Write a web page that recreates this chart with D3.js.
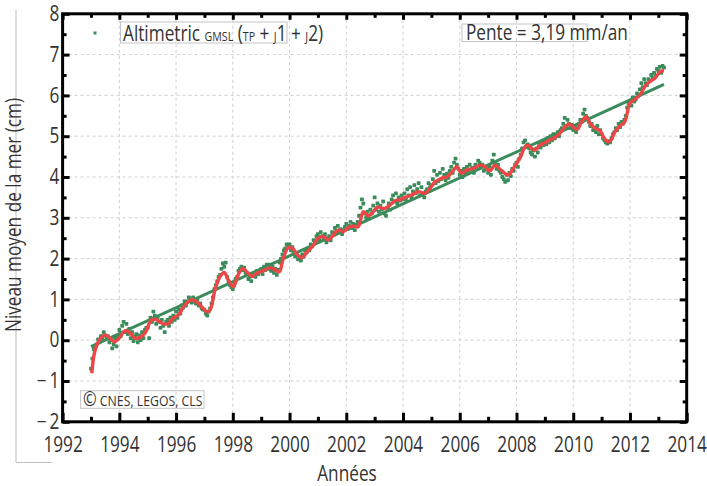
<!DOCTYPE html>
<html>
<head>
<meta charset="utf-8">
<script src="https://cdn.jsdelivr.net/npm/d3@7"></script>
<style>
 body { margin: 0; background: #fff; }
 text { font-family: "Open Sans", sans-serif; fill: #333; }
</style>
</head>
<body>
<script>
const width = 707;
const height = 486;
const sx = 0.82; // the original font is narrow, squeeze Open Sans a bit

// smoothed curve (red)
const smoothYears = [1993.03, 1993.12, 1993.26, 1993.49, 1993.67, 1993.82, 1993.96, 1994.20, 1994.38, 1994.55, 1994.73, 1994.90,
 1995.14, 1995.32, 1995.55, 1995.73, 1995.90, 1996.08, 1996.31, 1996.53, 1996.73, 1996.90, 1997.08, 1997.20, 1997.37, 1997.55,
 1997.70, 1997.84, 1998.02, 1998.19, 1998.35, 1998.49, 1998.67, 1998.84, 1999.07, 1999.31, 1999.49, 1999.64, 1999.78, 1999.96,
 2000.11, 2000.25, 2000.43, 2000.60, 2000.84, 2001.01, 2001.19, 2001.37, 2001.54, 2001.72, 2001.89, 2002.07, 2002.25, 2002.42,
 2002.60, 2002.78, 2002.95, 2003.10, 2003.36, 2003.54, 2003.72, 2003.89, 2004.07, 2004.31, 2004.54, 2004.77, 2004.95, 2005.13,
 2005.36, 2005.57, 2005.74, 2005.89, 2006.07, 2006.24, 2006.48, 2006.71, 2006.89, 2007.06, 2007.24, 2007.42, 2007.59, 2007.71,
 2007.85, 2008.01, 2008.15, 2008.28, 2008.38, 2008.54, 2008.65, 2008.83, 2009.00, 2009.18, 2009.36, 2009.53, 2009.71, 2009.86,
 2010.00, 2010.14, 2010.30, 2010.45, 2010.59, 2010.77, 2010.94, 2011.06, 2011.20, 2011.32, 2011.47, 2011.65, 2011.82, 2012.00,
 2012.17, 2012.35, 2012.52, 2012.70, 2012.88, 2013.06, 2013.20];
const smoothValues = [-0.81, -0.32, -0.04, 0.13, 0.05, -0.04, 0.02, 0.23, 0.18, 0.05, 0.07, 0.17,
 0.50, 0.50, 0.40, 0.41, 0.54, 0.62, 0.86, 0.99, 0.94, 0.82, 0.70, 0.74, 1.23, 1.56,
 1.66, 1.48, 1.31, 1.60, 1.76, 1.68, 1.56, 1.64, 1.70, 1.78, 1.72, 1.68, 2.01, 2.27,
 2.25, 2.11, 2.02, 2.15, 2.33, 2.50, 2.54, 2.46, 2.58, 2.70, 2.66, 2.76, 2.80, 2.78,
 3.15, 3.05, 3.15, 3.26, 3.23, 3.31, 3.42, 3.44, 3.50, 3.56, 3.64, 3.60, 3.72, 3.88,
 3.97, 4.01, 4.13, 4.25, 4.09, 4.17, 4.21, 4.29, 4.25, 4.15, 4.29, 4.19, 4.09, 4.05,
 4.17, 4.34, 4.50, 4.72, 4.78, 4.70, 4.66, 4.78, 4.84, 4.91, 4.97, 5.07, 5.23, 5.30,
 5.22, 5.17, 5.36, 5.48, 5.32, 5.19, 5.14, 4.99, 4.87, 4.89, 5.11, 5.25, 5.36, 5.81,
 5.90, 6.01, 6.21, 6.34, 6.42, 6.58, 6.61];

// altimetry points (green), one row per year, every 0.05 year from 1993.0
const pointStart = 1993.0;
const pointStep = 0.05;
const pointValues = [
 -0.70,-0.45,-0.22,-0.15,-0.10,0.02,-0.05,0.10,0.05,0.20,0.12,0.08,0.10,-0.05,0.00,-0.20,-0.10,0.05,-0.15,0.10,
 0.25,0.10,0.35,0.45,0.20,0.40,0.15,0.28,0.05,0.20,-0.02,0.10,0.15,-0.05,0.12,0.00,0.20,0.05,0.25,0.30,
 0.30,0.05,0.55,0.45,0.70,0.60,0.40,0.55,0.45,0.30,0.50,0.35,0.20,0.45,0.50,0.35,0.55,0.45,0.60,0.50,
 0.70,0.55,0.75,0.65,0.85,0.80,0.95,0.85,0.95,1.05,1.00,0.92,1.05,0.95,0.90,1.00,0.85,0.90,0.78,0.75,
 0.75,0.65,0.60,0.70,0.78,0.90,1.05,1.25,1.35,1.45,1.55,1.60,1.75,1.88,1.80,1.90,1.55,1.45,1.35,1.30,
 1.25,1.35,1.50,1.55,1.70,1.75,1.80,1.72,1.78,1.65,1.62,1.50,1.55,1.45,1.58,1.65,1.55,1.70,1.62,1.68,
 1.75,1.62,1.80,1.72,1.85,1.75,1.85,1.70,1.80,1.65,1.75,1.60,1.72,1.90,2.00,2.10,2.20,2.25,2.35,2.30,
 2.35,2.20,2.28,2.15,2.05,2.10,1.98,2.05,1.95,2.10,2.05,2.20,2.15,2.25,2.20,2.35,2.30,2.45,2.40,2.55,
 2.60,2.45,2.65,2.55,2.48,2.60,2.40,2.50,2.55,2.45,2.65,2.60,2.75,2.68,2.80,2.65,2.72,2.60,2.70,2.78,
 2.85,2.72,2.80,2.90,2.75,2.85,2.70,2.82,2.90,3.05,3.25,3.45,3.35,3.10,3.00,3.15,2.98,3.20,3.10,3.30,
 3.50,3.20,3.35,3.15,3.30,3.20,3.40,3.10,3.05,3.25,3.35,3.20,3.45,3.55,3.40,3.60,3.35,3.50,3.42,3.55,
 3.45,3.60,3.45,3.70,3.55,3.75,3.50,3.65,3.80,3.60,3.70,3.85,3.55,3.75,3.60,3.50,3.65,3.70,3.85,3.75,
 3.80,3.95,4.15,3.85,4.05,3.90,4.10,3.95,4.20,4.05,3.92,4.08,3.98,4.15,4.25,4.10,4.35,4.45,4.30,4.20,
 4.05,4.15,4.00,4.20,4.10,4.25,4.15,4.30,4.18,4.22,4.10,4.30,4.25,4.40,4.35,4.25,4.30,4.15,4.25,4.20,
 4.10,4.25,4.05,4.40,4.55,4.35,4.20,4.30,4.15,4.10,4.00,3.95,3.88,4.05,3.92,4.10,4.02,4.20,4.15,4.30,
 4.35,4.25,4.45,4.55,4.70,4.85,4.90,4.75,4.80,4.70,4.60,4.55,4.65,4.50,4.70,4.60,4.80,4.72,4.85,4.78,
 4.90,4.80,4.95,4.85,5.00,4.90,5.05,4.95,5.00,5.10,5.00,5.15,5.20,5.30,5.45,5.25,5.40,5.30,5.20,5.28,
 5.15,5.25,5.10,5.20,5.30,5.40,5.35,5.55,5.65,5.50,5.45,5.35,5.25,5.30,5.15,5.20,5.10,5.25,5.05,5.15,
 5.05,4.95,4.90,4.85,4.82,4.88,4.85,4.95,5.05,5.10,5.20,5.15,5.30,5.22,5.35,5.30,5.40,5.50,5.70,5.80,
 5.85,5.75,5.95,5.85,5.90,6.05,6.00,6.15,6.30,6.20,6.40,6.30,6.25,6.40,6.35,6.50,6.42,6.55,6.48,6.65,
 6.60,6.70,6.55,6.72,6.68];

// linear trend, 3,19 mm/an
const trendYears = [1993.0, 2013.2];
const trendValues = [-0.16, 6.27];

const xMajor = [1992, 1994, 1996, 1998, 2000, 2002, 2004, 2006, 2008, 2010, 2012, 2014];
const xMinor = [1993, 1995, 1997, 1999, 2001, 2003, 2005, 2007, 2009, 2011, 2013];
const yMajor = [-2, -1, 0, 1, 2, 3, 4, 5, 6, 7, 8];
const yMinor = [-1.5, -0.5, 0.5, 1.5, 2.5, 3.5, 4.5, 5.5, 6.5, 7.5];

const pLeft = 62.6, pRight = 686.7, pTop = 13.8, pBottom = 421.8;
const green = "#3b8b5b";
const red = "#ec4646";

var svg = d3.select("body")
 .append("svg")
 .attr("width", width)
 .attr("height", height);

var x = d3.scaleLinear().domain([1992, 2014]).range([pLeft, pRight]);
var y = d3.scaleLinear().domain([-2, 8]).range([pBottom, pTop]);

// grid
svg.append("g").selectAll("line")
 .data(xMajor.slice(1, -1))
 .enter().append("line")
 .attr("x1", d => x(d)).attr("x2", d => x(d))
 .attr("y1", pTop).attr("y2", pBottom)
 .attr("stroke", "#cfcfcf").attr("stroke-dasharray", "3,3");
svg.append("g").selectAll("line")
 .data(yMajor.slice(1, -1))
 .enter().append("line")
 .attr("x1", pLeft).attr("x2", pRight)
 .attr("y1", d => y(d)).attr("y2", d => y(d))
 .attr("stroke", "#cfcfcf").attr("stroke-dasharray", "3,3");

// points
svg.append("g").selectAll("rect")
 .data(pointValues)
 .enter().append("rect")
 .attr("x", (d, i) => x(pointStart + i * pointStep) - 1.9)
 .attr("y", d => y(d) - 1.9)
 .attr("width", 3.8).attr("height", 3.8)
 .attr("rx", 0.8)
 .attr("fill", green);

// trend
svg.append("path")
 .datum(trendYears.map((d, i) => [d, trendValues[i]]))
 .attr("d", d3.line().x(d => x(d[0])).y(d => y(d[1])))
 .attr("fill", "none").attr("stroke", green).attr("stroke-width", 3);

// smoothed curve
svg.append("path")
 .datum(smoothYears.map((d, i) => [d, smoothValues[i]]))
 .attr("d", d3.line().curve(d3.curveCatmullRom).x(d => x(d[0])).y(d => y(d[1])))
 .attr("fill", "none").attr("stroke", red).attr("stroke-width", 3.4).attr("stroke-linejoin", "round");

// axes, ticks pointing inside
function minusFmt(d) {
 return d < 0 ? "\u2212\u2009" + Math.abs(d) : "" + d;
}
function styleAxis(g, w) {
 g.select(".domain").remove();
 g.selectAll("line").attr("stroke", "#000").attr("stroke-width", w);
 g.attr("font-family", null).attr("font-size", null);
}

var gb = svg.append("g").attr("transform", "translate(0," + pBottom + ")")
 .call(d3.axisBottom(x).tickValues(xMajor).tickSize(-9).tickPadding(15).tickFormat(d3.format("d")));
styleAxis(gb, 3);
gb.selectAll("text").attr("font-size", 21).attr("transform", "scale(" + sx + ",1)");
var gb2 = svg.append("g").attr("transform", "translate(0," + pBottom + ")")
 .call(d3.axisBottom(x).tickValues(xMinor).tickSize(-5).tickFormat(""));
styleAxis(gb2, 3);

var gl = svg.append("g").attr("transform", "translate(" + pLeft + ",0)")
 .call(d3.axisLeft(y).tickValues(yMajor).tickSize(-7).tickPadding(4).tickFormat(minusFmt));
styleAxis(gl, 3);
gl.selectAll("text").attr("font-size", 21).attr("transform", "scale(" + sx + ",1)");
var gl2 = svg.append("g").attr("transform", "translate(" + pLeft + ",0)")
 .call(d3.axisLeft(y).tickValues(yMinor).tickSize(-4).tickFormat(""));
styleAxis(gl2, 3);

var gt = svg.append("g").attr("transform", "translate(0," + pTop + ")")
 .call(d3.axisTop(x).tickValues(xMajor).tickSize(-6).tickFormat(""));
styleAxis(gt, 3);
var gt2 = svg.append("g").attr("transform", "translate(0," + pTop + ")")
 .call(d3.axisTop(x).tickValues(xMinor).tickSize(-4).tickFormat(""));
styleAxis(gt2, 3);

var gr = svg.append("g").attr("transform", "translate(" + pRight + ",0)")
 .call(d3.axisRight(y).tickValues(yMajor).tickSize(-7).tickFormat(""));
styleAxis(gr, 3);
var gr2 = svg.append("g").attr("transform", "translate(" + pRight + ",0)")
 .call(d3.axisRight(y).tickValues(yMinor).tickSize(-4).tickFormat(""));
styleAxis(gr2, 3);

svg.append("rect")
 .attr("x", pLeft).attr("y", pTop)
 .attr("width", pRight - pLeft).attr("height", pBottom - pTop)
 .attr("fill", "none").attr("stroke", "#000").attr("stroke-width", 3);

// titles
svg.append("path")
 .attr("d", "M16,10V462.5H52")
 .attr("fill", "none").attr("stroke", "#bdbdbd");

svg.append("text")
 .attr("transform", "translate(21,215) rotate(-90) scale(" + sx + ",1)")
 .attr("text-anchor", "middle").attr("font-size", 21)
 .text("Niveau moyen de la mer (cm)");

svg.append("text")
 .attr("transform", "translate(347,481) scale(" + sx + ",1)")
 .attr("text-anchor", "middle").attr("font-size", 21)
 .text("Années");

// legend and notes
function box(x0, y0, x1, y1) {
 svg.append("rect")
  .attr("x", x0).attr("y", y0).attr("width", x1 - x0).attr("height", y1 - y0)
  .attr("fill", "none").attr("stroke", "#c4c4c4");
}
box(120.5, 22, 287, 43);
svg.append("rect").attr("x", 93.5).attr("y", 31.5).attr("width", 3).attr("height", 3).attr("fill", green);

var leg = svg.append("text")
 .attr("transform", "translate(123,40.5) scale(" + sx + ",1)")
 .attr("font-size", 21);
const legendParts = [["Altimetric ", 21], ["GMSL", 13], [" (", 21], ["TP", 13], [" + ", 21], ["J", 13],
 ["1 + ", 21], ["J", 13], ["2)", 21]];
legendParts.forEach(p => leg.append("tspan").attr("font-size", p[1]).text(p[0]));

box(462, 24, 587, 41.5);
svg.append("text")
 .attr("transform", "translate(466,39.5) scale(" + sx + ",1)")
 .attr("font-size", 21)
 .text("Pente = 3,19 mm/an");

box(80.7, 390.7, 204, 408.3);
var cp = svg.append("text")
 .attr("transform", "translate(83,405.5) scale(" + sx + ",1)");
cp.append("tspan").attr("font-size", 20).text("©");
cp.append("tspan").attr("font-size", 15).text(" CNES, LEGOS, CLS");
</script>
</body>
</html>
